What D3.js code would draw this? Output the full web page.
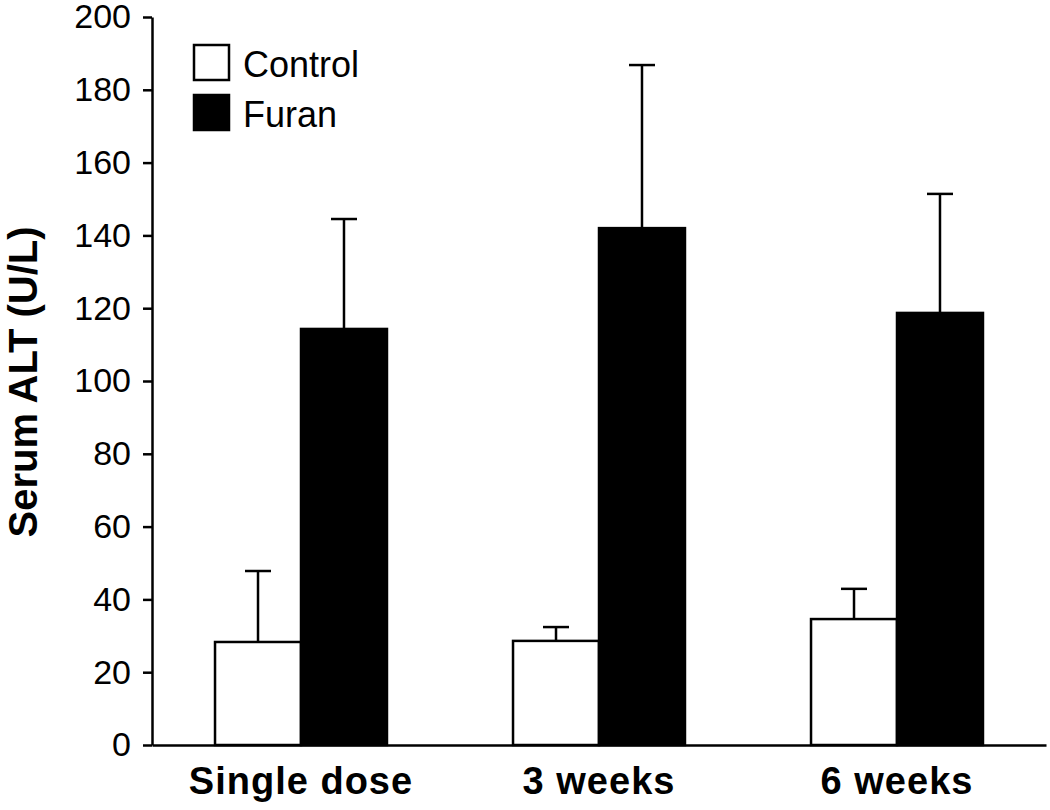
<!DOCTYPE html>
<html>
<head>
<meta charset="utf-8">
<script src="https://cdn.jsdelivr.net/npm/d3@7"></script>
<style>
  body { margin: 0; background: #fff; }
  svg { display: block; font-family: Arial, "Liberation Sans", Helvetica, sans-serif; }
</style>
</head>
<body>
<svg id="chart" width="1050" height="810"></svg>
<script>
const categories = ["Single dose", "3 weeks", "6 weeks"];
const seriesNames = ["Control", "Furan"];
const controlValues = [28.3, 28.6, 34.6];
const controlErrors = [19.5, 3.8, 8.3];
const furanValues = [114.3, 142.0, 118.7];
const furanErrors = [30.2, 44.8, 32.7];
const yTicks = [0, 20, 40, 60, 80, 100, 120, 140, 160, 180, 200];
const yLabel = "Serum ALT (U/L)";

const seriesFill = { Control: "#ffffff", Furan: "#000000" };
const rows = [];
categories.forEach((c, i) => {
  rows.push({ cat: c, series: "Control", value: controlValues[i], err: controlErrors[i] });
  rows.push({ cat: c, series: "Furan", value: furanValues[i], err: furanErrors[i] });
});

const svg = d3.select("#chart");
const mLeft = 152, mRight = 1046, mTop = 17, mBottom = 745;

const x = d3.scaleBand().domain(categories).range([mLeft, mRight]).padding(0);
const xs = d3.scaleBand().domain(seriesNames).range([0, x.bandwidth()]).paddingInner(0).paddingOuter(0.733);
const y = d3.scaleLinear().domain([0, 200]).range([mBottom, mTop]);

// bars
svg.append("g").selectAll("rect").data(rows).join("rect")
  .attr("x", d => x(d.cat) + xs(d.series))
  .attr("y", d => y(d.value))
  .attr("width", xs.bandwidth())
  .attr("height", d => y(0) - y(d.value))
  .attr("fill", d => seriesFill[d.series])
  .attr("stroke", "#000")
  .attr("stroke-width", 2.5);

// error bars (upper only)
const capW = 26;
const eg = svg.append("g").attr("stroke", "#000").attr("stroke-width", 2.5);
rows.forEach(d => {
  const cx = x(d.cat) + xs(d.series) + xs.bandwidth() / 2;
  eg.append("line").attr("x1", cx).attr("x2", cx).attr("y1", y(d.value)).attr("y2", y(d.value + d.err));
  eg.append("line").attr("x1", cx - capW / 2).attr("x2", cx + capW / 2).attr("y1", y(d.value + d.err)).attr("y2", y(d.value + d.err));
});

// y axis
const yAxis = d3.axisLeft(y).tickValues(yTicks).tickSize(9).tickPadding(12).tickSizeOuter(0);
const gy = svg.append("g").attr("transform", `translate(${mLeft},0)`).call(yAxis);
gy.select(".domain").attr("stroke", "#000").attr("stroke-width", 2.5);
gy.selectAll(".tick line").attr("stroke", "#000").attr("stroke-width", 2.5);
gy.selectAll(".tick text").attr("font-size", 34).attr("fill", "#000")
  .attr("font-family", "Arial, 'Liberation Sans', Helvetica, sans-serif");

// x axis
const xAxis = d3.axisBottom(x).tickSize(0).tickPadding(22).tickSizeOuter(0);
const gx = svg.append("g").attr("transform", `translate(0,${mBottom})`).call(xAxis);
gx.select(".domain").attr("stroke", "#000").attr("stroke-width", 2.5);
gx.selectAll(".tick text").attr("font-size", 38).attr("font-weight", "bold").attr("fill", "#000")
  .attr("font-family", "Arial, 'Liberation Sans', Helvetica, sans-serif")
  .attr("letter-spacing", 1);

// y label
svg.append("text")
  .attr("transform", "translate(37,382) rotate(-90)")
  .attr("text-anchor", "middle")
  .attr("font-size", 40)
  .attr("font-weight", "bold")
  .attr("fill", "#000")
  .text(yLabel);

// legend
const lg = svg.append("g");
seriesNames.forEach((s, i) => {
  lg.append("rect")
    .attr("x", 194).attr("y", 45 + i * 50)
    .attr("width", 35).attr("height", 35)
    .attr("fill", seriesFill[s]).attr("stroke", "#000").attr("stroke-width", 2.5);
  lg.append("text")
    .attr("x", 243).attr("y", 77 + i * 50)
    .attr("font-size", 36).attr("fill", "#000")
    .text(s);
});
</script>
</body>
</html>
